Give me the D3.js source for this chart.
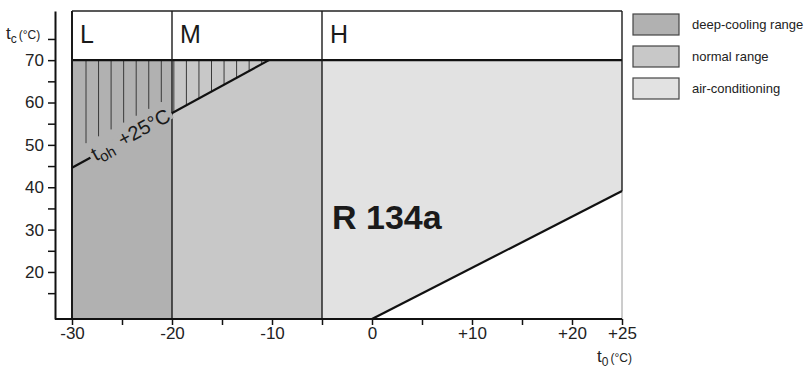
<!DOCTYPE html>
<html>
<head>
<meta charset="utf-8">
<script src="https://cdn.jsdelivr.net/npm/d3@7"></script>
<style>
  body { margin: 0; background: #fff; }
  svg { display: block; font-family: "Liberation Sans", Arial, sans-serif; }
</style>
</head>
<body>
<script>
// chart values
var zoneNames = ["L", "M", "H"],
	zoneBounds = [-30, -20, -5, 25],
	rangeNames = ["deep-cooling range", "normal range", "air-conditioning"],
	rangeColors = ["#b1b1b1", "#c8c8c8", "#e2e2e2"],
	tcMax = 70,
	tcMin = 8.9,
	tohLine = [[-30, 44.6], [-10.3, 70]],   // t_oh +25°C limit
	lowerLine = [[0, 8.9], [25, 39.1]],      // lower limit of air-conditioning
	xTickValues = [-30, -25, -20, -15, -10, -5, 0, 5, 10, 15, 20, 25],
	xLabelValues = [-30, -20, -10, 0, 10, 20, 25],
	yTickValues = [15, 20, 25, 30, 35, 40, 45, 50, 55, 60, 65, 70, 75],
	yLabelValues = [20, 30, 40, 50, 60, 70];

var width = 807,
	height = 369;

var svg = d3.select("body")
	.append("svg")
	.attr("width", width)
	.attr("height", height);

var x = d3.scaleLinear().domain([-30, 25]).range([72, 622]);
var y = d3.scaleLinear().domain([tcMin, 81.6]).range([319, 11]);

var line = d3.line()
	.x(function(d) { return x(d[0]); })
	.y(function(d) { return y(d[1]); });

// interpolate t_c on the toh line for a given t_o
function tohAt(t) {
	var a = tohLine[0], b = tohLine[1];
	return a[1] + (t - a[0]) * (b[1] - a[1]) / (b[0] - a[0]);
}

// filled ranges
var areas = [
	[[zoneBounds[0], tcMin], [zoneBounds[1], tcMin], [zoneBounds[1], tcMax], [zoneBounds[0], tcMax]],
	[[zoneBounds[1], tcMin], [zoneBounds[2], tcMin], [zoneBounds[2], tcMax], [zoneBounds[1], tcMax]],
	[[zoneBounds[2], tcMin], lowerLine[0], lowerLine[1], [zoneBounds[3], tcMax], [zoneBounds[2], tcMax]]
];

svg.selectAll(".area")
	.data(areas)
	.enter().append("path")
	.attr("class", "area")
	.attr("d", function(d) { return line(d) + "Z"; })
	.attr("fill", function(d, i) { return rangeColors[i]; });

// hatching above the toh line
var hatch = d3.range(-28.6, tohLine[1][0], 1.255);
svg.selectAll(".hatch")
	.data(hatch)
	.enter().append("line")
	.attr("class", "hatch")
	.attr("x1", function(d) { return x(d); })
	.attr("x2", function(d) { return x(d); })
	.attr("y1", y(tcMax))
	.attr("y2", function(d) { return y(tohAt(d) + (d < zoneBounds[1] ? 4 : 0)); })
	.attr("stroke", "#3a3a3a")
	.attr("stroke-width", 1);

// header box
svg.append("line")
	.attr("x1", x(-30)).attr("x2", x(25))
	.attr("y1", y(81.6)).attr("y2", y(81.6))
	.attr("stroke", "#222").attr("stroke-width", 1.5);

svg.append("line")
	.attr("x1", x(-30)).attr("x2", x(25))
	.attr("y1", y(tcMax)).attr("y2", y(tcMax))
	.attr("stroke", "#111").attr("stroke-width", 2.2);

svg.selectAll(".divider")
	.data(zoneBounds)
	.enter().append("line")
	.attr("class", "divider")
	.attr("x1", function(d) { return x(d); })
	.attr("x2", function(d) { return x(d); })
	.attr("y1", y(81.6))
	.attr("y2", function(d, i) { return i == 3 ? y(lowerLine[1][1]) : y(tcMin); })
	.attr("stroke", "#1a1a1a")
	.attr("stroke-width", function(d, i) { return i == 0 ? 2 : 1.4; });

// faint right edge below the lower line
svg.append("line")
	.attr("x1", x(25)).attr("x2", x(25))
	.attr("y1", y(lowerLine[1][1])).attr("y2", y(tcMin))
	.attr("stroke", "#9a9a9a").attr("stroke-width", 1);

svg.selectAll(".zone")
	.data(zoneNames)
	.enter().append("text")
	.attr("class", "zone")
	.attr("x", function(d, i) { return x(zoneBounds[i]) + 8; })
	.attr("y", 43)
	.attr("font-size", 25)
	.attr("fill", "#1a1a1a")
	.text(function(d) { return d; });

// limit lines
svg.append("path")
	.attr("d", line(tohLine))
	.attr("fill", "none")
	.attr("stroke", "#111")
	.attr("stroke-width", 2.2);

svg.append("path")
	.attr("d", line(lowerLine))
	.attr("fill", "none")
	.attr("stroke", "#111")
	.attr("stroke-width", 2.2);

// label sitting on the toh line (line is masked behind it)
var midT = -24.1;
var ang = Math.atan2(y(tohLine[1][1]) - y(tohLine[0][1]), x(tohLine[1][0]) - x(tohLine[0][0])) * 180 / Math.PI;
var lblG = svg.append("g")
	.attr("transform", "translate(" + x(midT) + "," + y(tohAt(midT)) + ") rotate(" + ang + ")");
var mask = lblG.append("rect").attr("fill", rangeColors[0]);
var lbl = lblG.append("text")
	.attr("text-anchor", "middle")
	.attr("dy", "0.3em")
	.attr("font-size", 20)
	.attr("fill", "#1a1a1a");
lbl.append("tspan").text("t");
lbl.append("tspan").attr("font-size", 15).attr("dy", 4).text("oh");
lbl.append("tspan").attr("dy", -4).attr("dx", 8).text("+25°C");
var bb = lbl.node().getBBox();
mask.attr("x", bb.x - 3).attr("width", bb.width + 6)
	.attr("y", -5).attr("height", 10);

svg.append("text")
	.attr("x", 332)
	.attr("y", 229)
	.attr("font-size", 34)
	.attr("font-weight", "bold")
	.attr("fill", "#1a1a1a")
	.text("R 134a");

// axes
var yAxis = d3.axisLeft(y)
	.tickValues(yTickValues)
	.tickSize(7)
	.tickSizeOuter(0)
	.tickFormat(function(d) { return yLabelValues.indexOf(d) >= 0 ? d : ""; });

var gy = svg.append("g")
	.attr("transform", "translate(55,0)")
	.call(yAxis);

var xAxis = d3.axisBottom(x)
	.tickValues(xTickValues)
	.tickSize(6)
	.tickSizeOuter(0)
	.tickFormat(function(d) {
		if (xLabelValues.indexOf(d) < 0) return "";
		return d > 0 ? "+" + d : d;
	});

var gx = svg.append("g")
	.attr("transform", "translate(0,319)")
	.call(xAxis);

gx.select(".domain").remove();
gx.append("line")
	.attr("x1", 55).attr("x2", x(25))
	.attr("stroke", "#111").attr("stroke-width", 2);

[gx, gy].forEach(function(g) {
	g.selectAll(".domain").attr("stroke", "#111").attr("stroke-width", 2);
	g.selectAll(".tick line").attr("stroke", "#111").attr("stroke-width", 1.5);
	g.selectAll(".tick text")
		.attr("font-size", 17)
		.attr("font-family", "Liberation Sans, Arial, sans-serif")
		.attr("fill", "#222");
});
gy.selectAll(".tick text").attr("x", -11);
gx.selectAll(".tick text").attr("y", 8);

// axis titles
var ty = svg.append("text").attr("x", 6).attr("y", 39).attr("fill", "#222");
ty.append("tspan").attr("font-size", 17).text("t");
ty.append("tspan").attr("font-size", 12).attr("dy", 4).text("c");
ty.append("tspan").attr("font-size", 12).attr("dy", -4).attr("dx", 2).text("(°C)");

var tx = svg.append("text").attr("x", 597).attr("y", 362).attr("fill", "#222");
tx.append("tspan").attr("font-size", 17).text("t");
tx.append("tspan").attr("font-size", 12).attr("dy", 4).text("0");
tx.append("tspan").attr("font-size", 12).attr("dy", -4).attr("dx", 2).text("(°C)");

// legend
var legend = svg.selectAll(".legend")
	.data(rangeNames)
	.enter().append("g")
	.attr("class", "legend")
	.attr("transform", function(d, i) { return "translate(633," + (14 + i * 32) + ")"; });

legend.append("rect")
	.attr("width", 46)
	.attr("height", 21)
	.attr("fill", function(d, i) { return rangeColors[i]; })
	.attr("stroke", "#444")
	.attr("stroke-width", 1.2);

legend.append("text")
	.attr("x", 59)
	.attr("y", 15)
	.attr("font-size", 13)
	.attr("fill", "#222")
	.text(function(d) { return d; });
</script>
</body>
</html>
